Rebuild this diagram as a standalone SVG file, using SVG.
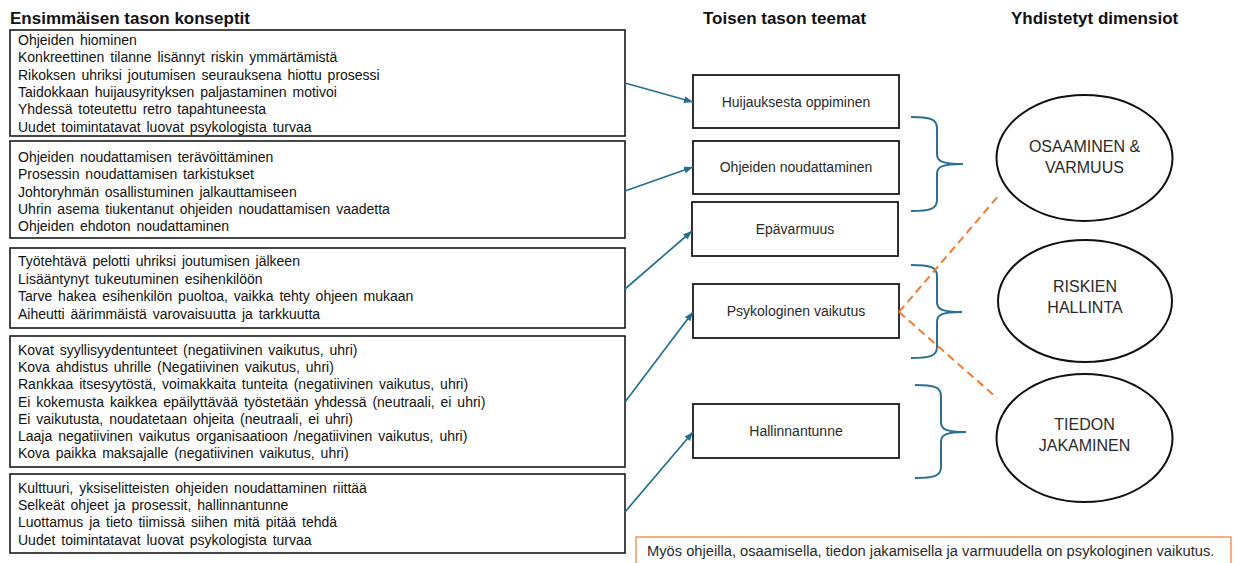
<svg xmlns="http://www.w3.org/2000/svg" width="1238" height="563" viewBox="0 0 1238 563">
  <style>
    .bg { fill: #ffffff; }
    .hdr { font-family: "Liberation Sans", Arial, sans-serif; font-size: 17px; font-weight: bold; fill: #111; }
    .cbox { fill: #ffffff; stroke: #1a1a1a; stroke-width: 1.6; }
    .ctext { font-family: "Liberation Sans", Arial, sans-serif; font-size: 14px; fill: #111; word-spacing: 2px; }
    .tbox { fill: #ffffff; stroke: #1a1a1a; stroke-width: 1.8; }
    .ttext { font-family: "Liberation Sans", Arial, sans-serif; font-size: 14px; fill: #2a2a2a; text-anchor: middle; }
    .dim { fill: #ffffff; stroke: #111; stroke-width: 2; }
    .dtext { font-family: "Liberation Sans", Arial, sans-serif; font-size: 16px; fill: #2a2a2a; text-anchor: middle; }
    .arrow { fill: none; stroke: #236f91; stroke-width: 1.7; marker-end: url(#head); }
    .brace { fill: none; stroke: #2a6f94; stroke-width: 2; }
    .dash { fill: none; stroke: #ed7d31; stroke-width: 2; stroke-dasharray: 8 5; }
    .note { fill: #ffffff; stroke: #ed7d31; stroke-width: 1.2; }
    .ntext { font-family: "Liberation Sans", Arial, sans-serif; font-size: 14.7px; fill: #2a2a2a; }
  </style>
  <defs>
    <marker id="head" markerUnits="userSpaceOnUse" markerWidth="10" markerHeight="8" refX="9" refY="3.5" orient="auto">
      <path d="M0,0 L9,3.5 L0,7 z" fill="#236f91"/>
    </marker>
  </defs>

  <rect class="bg" x="0" y="0" width="1238" height="563"/>

  <!-- column headings -->
  <g id="headings">
    <text class="hdr" x="10" y="24">Ensimmäisen tason konseptit</text>
    <text class="hdr" x="703" y="24">Toisen tason teemat</text>
    <text class="hdr" x="1011" y="24">Yhdistetyt dimensiot</text>
  </g>

  <!-- first-level concept boxes -->
  <g id="concepts-1">
    <rect class="cbox" x="10" y="30" width="615" height="106"/>
    <text class="ctext" x="18" y="45">Ohjeiden hiominen</text>
    <text class="ctext" x="18" y="62.3">Konkreettinen tilanne lisännyt riskin ymmärtämistä</text>
    <text class="ctext" x="18" y="79.6">Rikoksen uhriksi joutumisen seurauksena hiottu prosessi</text>
    <text class="ctext" x="18" y="96.9">Taidokkaan huijausyrityksen paljastaminen motivoi</text>
    <text class="ctext" x="18" y="114.2">Yhdessä toteutettu retro tapahtuneesta</text>
    <text class="ctext" x="18" y="131.5">Uudet toimintatavat luovat psykologista turvaa</text>
  </g>

  <g id="concepts-2">
    <rect class="cbox" x="10" y="141" width="615" height="97"/>
    <text class="ctext" x="18" y="162">Ohjeiden noudattamisen terävöittäminen</text>
    <text class="ctext" x="18" y="179.3">Prosessin noudattamisen tarkistukset</text>
    <text class="ctext" x="18" y="196.6">Johtoryhmän osallistuminen jalkauttamiseen</text>
    <text class="ctext" x="18" y="213.9">Uhrin asema tiukentanut ohjeiden noudattamisen vaadetta</text>
    <text class="ctext" x="18" y="231.2">Ohjeiden ehdoton noudattaminen</text>
  </g>

  <g id="concepts-3">
    <rect class="cbox" x="10" y="248" width="615" height="80"/>
    <text class="ctext" x="18" y="266">Työtehtävä pelotti uhriksi joutumisen jälkeen</text>
    <text class="ctext" x="18" y="283.5">Lisääntynyt tukeutuminen esihenkilöön</text>
    <text class="ctext" x="18" y="301">Tarve hakea esihenkilön puoltoa, vaikka tehty ohjeen mukaan</text>
    <text class="ctext" x="18" y="318.5">Aiheutti äärimmäistä varovaisuutta ja tarkkuutta</text>
  </g>

  <g id="concepts-4">
    <rect class="cbox" x="10" y="336" width="615" height="131"/>
    <text class="ctext" x="18" y="355">Kovat syyllisyydentunteet (negatiivinen vaikutus, uhri)</text>
    <text class="ctext" x="18" y="372.2">Kova ahdistus uhrille (Negatiivinen vaikutus, uhri)</text>
    <text class="ctext" x="18" y="389.4">Rankkaa itsesyytöstä, voimakkaita tunteita (negatiivinen vaikutus, uhri)</text>
    <text class="ctext" x="18" y="406.6">Ei kokemusta kaikkea epäilyttävää työstetään yhdessä (neutraali, ei uhri)</text>
    <text class="ctext" x="18" y="423.8">Ei vaikutusta, noudatetaan ohjeita (neutraali, ei uhri)</text>
    <text class="ctext" x="18" y="441">Laaja negatiivinen vaikutus organisaatioon /negatiivinen vaikutus, uhri)</text>
    <text class="ctext" x="18" y="458.2">Kova paikka maksajalle (negatiivinen vaikutus, uhri)</text>
  </g>

  <g id="concepts-5">
    <rect class="cbox" x="10" y="474" width="615" height="79"/>
    <text class="ctext" x="18" y="493">Kulttuuri, yksiselitteisten ohjeiden noudattaminen riittää</text>
    <text class="ctext" x="18" y="510.2">Selkeät ohjeet ja prosessit, hallinnantunne</text>
    <text class="ctext" x="18" y="527.4">Luottamus ja tieto tiimissä siihen mitä pitää tehdä</text>
    <text class="ctext" x="18" y="544.6">Uudet toimintatavat luovat psykologista turvaa</text>
  </g>

  <!-- second-level themes -->
  <g id="theme-huijauksesta">
    <rect class="tbox" x="693" y="75" width="206" height="53"/>
    <text class="ttext" x="796" y="106.5">Huijauksesta oppiminen</text>
  </g>
  <g id="theme-ohjeiden">
    <rect class="tbox" x="693" y="141" width="206" height="53"/>
    <text class="ttext" x="796" y="172">Ohjeiden noudattaminen</text>
  </g>
  <g id="theme-epavarmuus">
    <rect class="tbox" x="692" y="202" width="206" height="54"/>
    <text class="ttext" x="795" y="234">Epävarmuus</text>
  </g>
  <g id="theme-psykologinen">
    <rect class="tbox" x="693" y="284" width="206" height="54"/>
    <text class="ttext" x="796" y="316">Psykologinen vaikutus</text>
  </g>
  <g id="theme-hallinnantunne">
    <rect class="tbox" x="693" y="404" width="206" height="54"/>
    <text class="ttext" x="796" y="436">Hallinnantunne</text>
  </g>

  <!-- aggregate dimensions -->
  <g id="dim-osaaminen">
    <ellipse class="dim" cx="1084.5" cy="158" rx="88" ry="63"/>
    <text class="dtext" x="1084.5" y="151.5">OSAAMINEN &amp;</text>
    <text class="dtext" x="1084.5" y="172.5">VARMUUS</text>
  </g>
  <g id="dim-riskien">
    <ellipse class="dim" cx="1085" cy="301" rx="87" ry="61"/>
    <text class="dtext" x="1085" y="292">RISKIEN</text>
    <text class="dtext" x="1085" y="313">HALLINTA</text>
  </g>
  <g id="dim-tiedon">
    <ellipse class="dim" cx="1084.5" cy="438" rx="88" ry="64"/>
    <text class="dtext" x="1084.5" y="430">TIEDON</text>
    <text class="dtext" x="1084.5" y="451">JAKAMINEN</text>
  </g>

  <!-- connectors -->
  <g id="connectors">
    <line class="arrow" x1="625" y1="83" x2="693" y2="102"/>
    <line class="arrow" x1="625" y1="191" x2="693" y2="167"/>
    <line class="arrow" x1="625" y1="289" x2="692" y2="231"/>
    <line class="arrow" x1="625" y1="402" x2="693" y2="312"/>
    <line class="arrow" x1="625" y1="512" x2="693" y2="432"/>

    <path class="brace" d="M911,117 C930,117 937,119 937,128 L937,154 C937,161 941,164 963,164 C941,164 937,167 937,174 L937,200 C937,209 930,211 911,211"/>
    <path class="brace" d="M911,265 C930,265 937,267 937,276 L937,302 C937,309 941,312 962,312 C941,312 937,315 937,322 L937,347 C937,356 930,358 911,358"/>
    <path class="brace" d="M915,385 C934,385 941,387 941,396 L941,422 C941,429 945,432 966,432 C945,432 941,435 941,442 L941,467 C941,476 934,478 915,478"/>

    <line class="dash" x1="899" y1="312" x2="1000" y2="194"/>
    <line class="dash" x1="899" y1="312" x2="997" y2="398"/>
  </g>

  <!-- footnote -->
  <g id="note">
    <rect class="note" x="636" y="537" width="595" height="30"/>
    <text class="ntext" x="647" y="556">Myös ohjeilla, osaamisella, tiedon jakamisella ja varmuudella on psykologinen vaikutus.</text>
  </g>
</svg>
